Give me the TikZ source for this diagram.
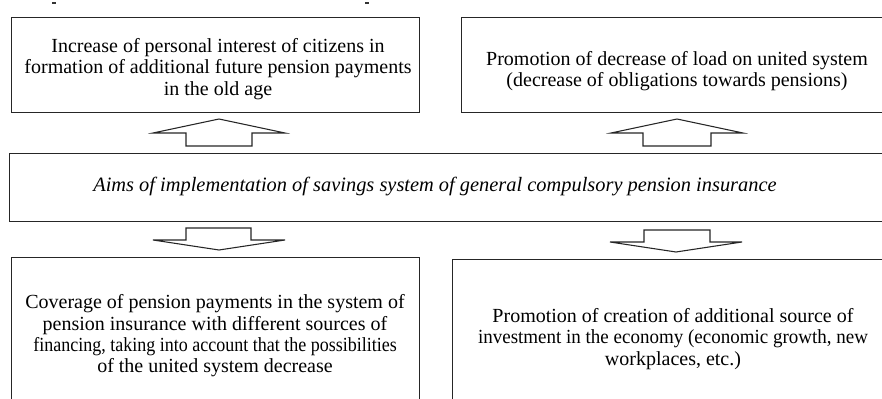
\documentclass[tikz,border=0pt]{standalone}
\usepackage{graphicx}
\usepackage{fontspec}
\setmainfont{Liberation Serif}
\begin{document}
\begin{tikzpicture}[x=0.75pt,y=-0.75pt,
  box/.style={draw=black!85,line width=0.8pt,inner sep=0pt,anchor=north west},
  txt/.style={align=center,font=\fontsize{15}{16}\selectfont,inner sep=0pt},
  blockarrow/.style={draw=black!85,line width=0.8pt,fill=white,line join=miter},
  cutmark/.style={draw=black!80,line width=1.4pt}]
\useasboundingbox (0,0) rectangle (882,399);
\clip (0,0) rectangle (882,399);
% boxes
\node[box,minimum width=408*0.75pt,minimum height=95*0.75pt] (tl) at (11,17) {};
\node[box,minimum width=440*0.75pt,minimum height=95*0.75pt] (tr) at (461,17) {};
\node[box,minimum width=890*0.75pt,minimum height=68*0.75pt] (mid) at (9,153) {};
\node[box,minimum width=408*0.75pt,minimum height=160*0.75pt] (bl) at (11,257) {};
\node[box,minimum width=450*0.75pt,minimum height=160*0.75pt] (br) at (452,259) {};
% texts
\node[txt] (tlt) at (218,69) {Increase of personal interest of citizens in\\formation of additional future pension payments\\in the old age};
\node[txt] (trt) at (677,71) {Promotion of decrease of load on united system\\(decrease of obligations towards pensions)};
\node[txt,font=\fontsize{15.3}{16}\selectfont\itshape] (midt) at (435,187) {Aims of implementation of savings system of general compulsory pension insurance};
\node[txt] (blt) at (215,336) {Coverage of pension payments in the system of\\pension insurance with different sources of\\\scalebox{0.9}[1]{financing, taking into account that the possibilities}\\of the united system decrease};
\node[txt] (brt) at (673,339) {Promotion of creation of additional source of\\\scalebox{0.95}[1]{investment in the economy (economic growth, new}\\workplaces, etc.)};
% block arrows
\draw[blockarrow] (219,119) -- (285,133) -- (252,133) -- (252,146) -- (186,146) -- (186,133) -- (153,133) -- cycle;
\draw[blockarrow] (677,119) -- (743,133) -- (711,133) -- (711,146) -- (643,146) -- (643,133) -- (611,133) -- cycle;
\draw[blockarrow] (219,250) -- (285,240) -- (251,240) -- (251,228) -- (186,228) -- (186,240) -- (153,240) -- cycle;
\draw[blockarrow] (676,252) -- (742,242) -- (710,242) -- (710,230) -- (644,230) -- (644,242) -- (610,242) -- cycle;
% cut-off marks at top
\draw[cutmark] (52,3) -- (56,3);
\draw[cutmark] (365,3) -- (369,3);
\end{tikzpicture}
\end{document}
